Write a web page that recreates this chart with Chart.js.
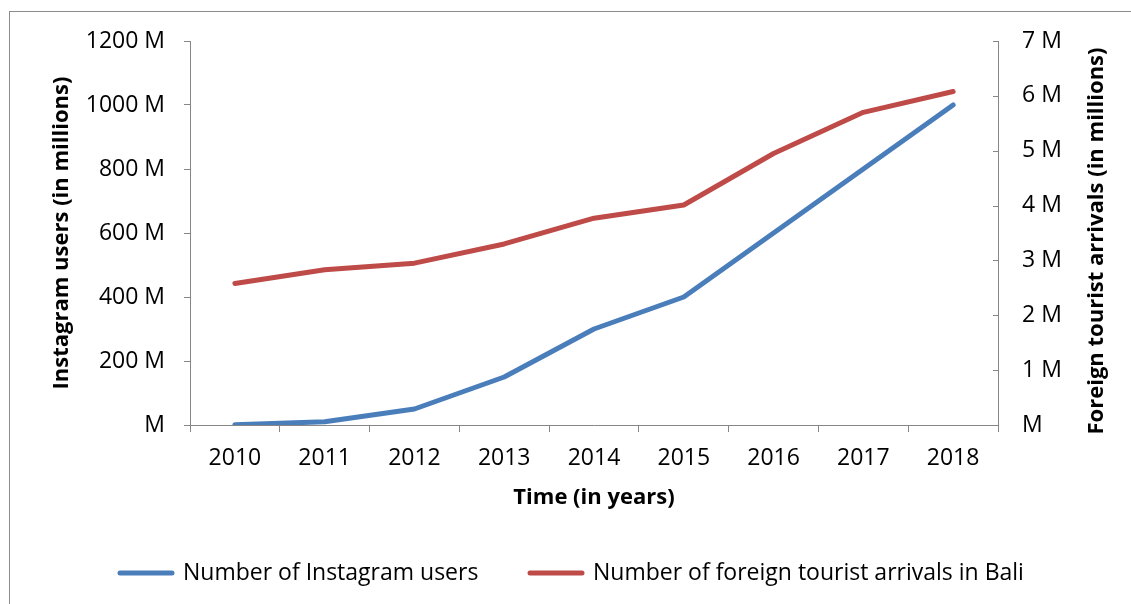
<!DOCTYPE html>
<html>
<head>
<meta charset="utf-8">
<script src="https://cdn.jsdelivr.net/npm/chart.js@4"></script>
<style>
  html, body { margin: 0; padding: 0; background: #fff; overflow: hidden; }
  #frame { position: absolute; left: 9px; top: 11px; width: 1200px; height: 700px; border: 1px solid #8c8c8c; }
  #wrap { position: absolute; left: 0; top: 0; width: 1131px; height: 604px; }
</style>
</head>
<body>
<div id="frame"></div>
<div id="wrap"><canvas id="chart" width="1131" height="604"></canvas></div>
<script>
// chart data
const years = ['2010', '2011', '2012', '2013', '2014', '2015', '2016', '2017', '2018'];
const instagramUsers = [1, 10, 50, 150, 300, 400, 600, 800, 1000];        // millions
const baliArrivals = [2.58, 2.83, 2.95, 3.30, 3.77, 4.01, 4.95, 5.70, 6.08]; // millions
const leftTicks = [0, 200, 400, 600, 800, 1000, 1200];
const rightTicks = [0, 1, 2, 3, 4, 5, 6, 7];
const rightTitle = 'Foreign tourist arrivals (in millions)';

const BLUE = '#4a7ebb';
const RED = '#be4b48';
const AXIS = '#868686';
const FONT = '"Open Sans", "Noto Sans", sans-serif';
const FS = 23;      // tick + legend text
const TS = 22;      // axis titles

const fmtM = v => (v === 0 ? 'M' : v + ' M');

// inward ticks on the secondary axis, its title (reads bottom-up) and the legend
const extras = {
  id: 'extras',
  afterDraw(chart) {
    const ctx = chart.ctx;
    const yr = chart.scales.y1;
    ctx.save();
    ctx.strokeStyle = AXIS;
    ctx.lineWidth = 1;
    rightTicks.forEach(v => {
      const y = Math.round(yr.getPixelForValue(v)) + 0.5;
      ctx.beginPath();
      ctx.moveTo(yr.left - 5, y);
      ctx.lineTo(yr.left, y);
      ctx.stroke();
    });

    ctx.save();
    ctx.translate(1097, (chart.chartArea.top + chart.chartArea.bottom) / 2 + 8);
    ctx.rotate(-Math.PI / 2);
    ctx.font = 'bold ' + TS + 'px ' + FONT;
    ctx.fillStyle = '#000';
    ctx.textAlign = 'center';
    ctx.textBaseline = 'middle';
    ctx.fillText(rightTitle, 0, 0);
    ctx.restore();

    // legend
    const items = chart.data.datasets.map(d => ({ text: d.label, color: d.borderColor }));
    const starts = [118, 528];
    ctx.font = FS + 'px ' + FONT;
    ctx.textBaseline = 'middle';
    ctx.lineCap = 'round';
    ctx.lineWidth = 5;
    items.forEach((it, i) => {
      const x = starts[i];
      const y = 573;
      ctx.strokeStyle = it.color;
      ctx.beginPath();
      ctx.moveTo(x + 2, y);
      ctx.lineTo(x + 54, y);
      ctx.stroke();
      ctx.fillStyle = '#000';
      ctx.fillText(it.text, x + 65, y);
    });
    ctx.restore();
  }
};

new Chart(document.getElementById('chart').getContext('2d'), {
  type: 'line',
  data: {
    labels: years,
    datasets: [{
      label: 'Number of Instagram users',
      data: instagramUsers,
      borderColor: BLUE,
      backgroundColor: BLUE,
      borderWidth: 5,
      pointRadius: 0,
      tension: 0,
      borderJoinStyle: 'round',
      borderCapStyle: 'round',
      yAxisID: 'y'
    }, {
      label: 'Number of foreign tourist arrivals in Bali',
      data: baliArrivals,
      borderColor: RED,
      backgroundColor: RED,
      borderWidth: 5,
      pointRadius: 0,
      tension: 0,
      borderJoinStyle: 'round',
      borderCapStyle: 'round',
      yAxisID: 'y1'
    }]
  },
  options: {
    responsive: false,
    animation: false,
    layout: { padding: { top: 41, left: 0, right: 0, bottom: 0 } },
    plugins: {
      legend: { display: false },
      tooltip: { enabled: false }
    },
    scales: {
      x: {
        offset: true,
        afterFit: s => { s.height = 179; },
        grid: { offset: true, drawOnChartArea: false, color: AXIS, tickLength: 7 },
        border: { color: AXIS, width: 1 },
        ticks: { color: '#000', font: { family: FONT, size: FS }, padding: 13, maxRotation: 0 },
        title: {
          display: true,
          text: 'Time (in years)',
          color: '#000',
          font: { family: FONT, size: TS, weight: 'bold' },
          padding: { top: 0, bottom: 93 }
        }
      },
      y: {
        position: 'left',
        min: 0,
        max: 1200,
        afterFit: s => { s.width = 190; },
        afterBuildTicks: s => { s.ticks = leftTicks.map(v => ({ value: v })); },
        grid: { drawOnChartArea: false, color: AXIS, tickLength: 6 },
        border: { color: AXIS, width: 1 },
        ticks: { color: '#000', font: { family: FONT, size: FS }, padding: 19, callback: v => fmtM(v) },
        title: {
          display: true,
          text: 'Instagram users (in millions)',
          color: '#000',
          font: { family: FONT, size: TS, weight: 'bold' },
          padding: { top: 49, bottom: 0 }
        }
      },
      y1: {
        position: 'right',
        min: 0,
        max: 7,
        afterFit: s => { s.width = 133; },
        afterBuildTicks: s => { s.ticks = rightTicks.map(v => ({ value: v })); },
        grid: { drawOnChartArea: false, drawTicks: false, color: AXIS },
        border: { color: AXIS, width: 1 },
        ticks: { color: '#000', font: { family: FONT, size: FS }, padding: 24, callback: v => fmtM(v) },
        title: { display: false }
      }
    }
  },
  plugins: [extras]
});
</script>
</body>
</html>
